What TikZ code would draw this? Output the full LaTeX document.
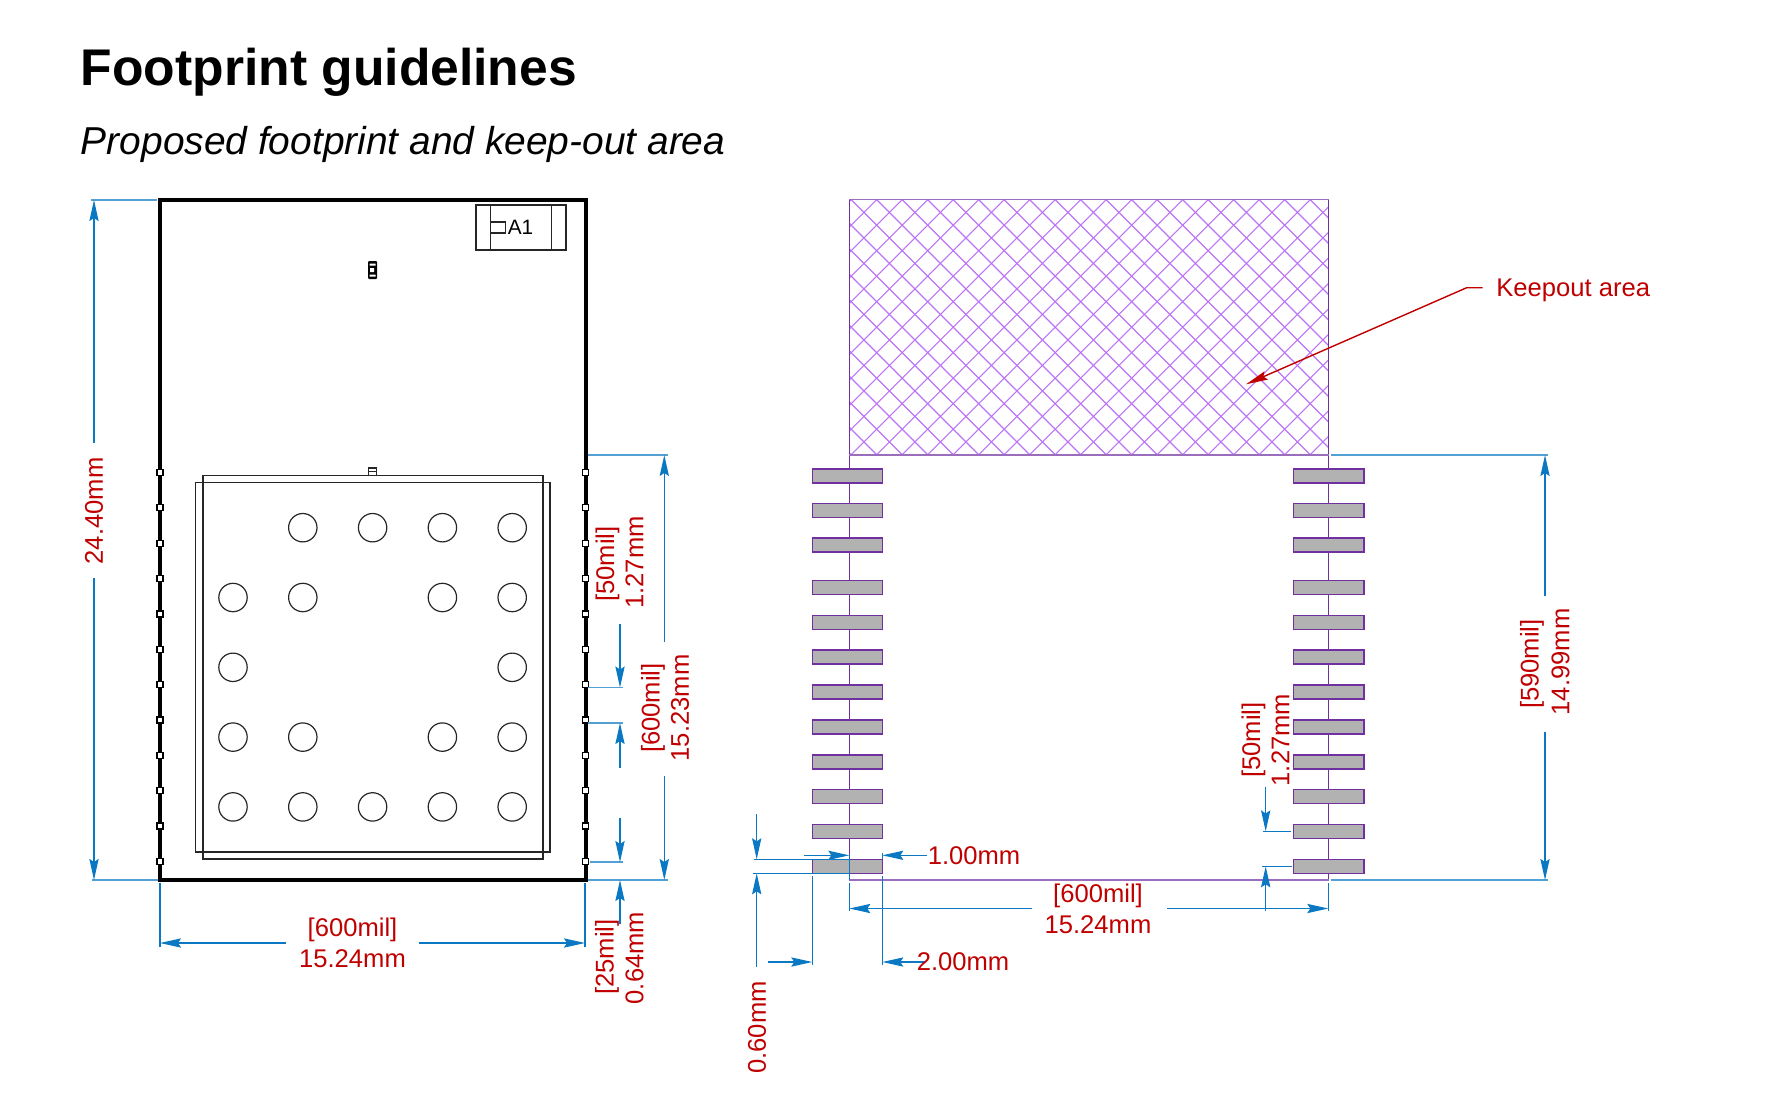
\documentclass[tikz,border=0pt]{standalone}
\usepackage{fontspec}
\setmainfont{Liberation Sans}
\usetikzlibrary{arrows.meta}
\definecolor{dimblue}{HTML}{0A78C2}
\definecolor{dimred}{HTML}{C00000}
\definecolor{padpurple}{HTML}{7030A0}
\definecolor{hatchpurple}{HTML}{BC74F7}
\definecolor{padgrey}{HTML}{B2B2B2}
\tikzset{
  dimarrow/.style={draw=dimblue,line width=0.7pt,-{Stealth[length=10.5pt,width=4.6pt,inset=1.5pt]}},
  extline/.style={draw=dimblue,line width=0.55pt},
  softext/.style={draw=dimblue!70,line width=0.8pt},
  dimtext/.style={text=dimred,font=\fontsize{12.8pt}{15pt}\selectfont,inner sep=0pt,anchor=center},
  vdimtext/.style={dimtext,rotate=90},
  outline/.style={draw=black!85,line width=0.6pt},
  modedge/.style={draw=black,line width=2pt},
  pinbox/.style={draw=black,fill=white,line width=0.6pt},
  padbox/.style={draw=padpurple,fill=padgrey,line width=0.8pt},
  keepline/.style={draw=padpurple,line width=0.7pt},
  softkeep/.style={draw=padpurple!70,line width=0.9pt},
  hatchline/.style={draw=hatchpurple,line width=0.55pt},
  callout/.style={draw=dimred,line width=0.7pt}
}
\begin{document}
\begin{tikzpicture}[x=0.5pt,y=-0.5pt]
\useasboundingbox (0,0) rectangle (1777,1119);
% titles
\node[anchor=west,inner sep=0pt,font=\fontsize{25.8pt}{30pt}\selectfont\bfseries] (title) at (80.5,72.5) {Footprint guidelines};
\node[anchor=west,inner sep=0pt,font=\fontsize{19.45pt}{24pt}\selectfont\itshape] (subtitle) at (80.5,144) {Proposed footprint and keep-out area};
% module
\draw[modedge] (160,200) rectangle (585.5,880);
\foreach \k in {0,...,11}{
  \pgfmathsetmacro{\py}{472.5+35.35*\k}
  \draw[pinbox] (157,\py-3) rectangle (163,\py+3);
  \draw[pinbox] (582.5,\py-3) rectangle (588.5,\py+3);
}
% A1 marker
\draw[outline] (476,205) rectangle (566,250);
\draw[outline] (490.4,205) -- (490.4,250) (551.8,205) -- (551.8,250);
\draw[outline] (490.4,222) rectangle (505.7,233);
\node[inner sep=0pt,anchor=center,font=\fontsize{10.4pt}{12pt}\selectfont] (aone) at (520.5,227.5) {A1};
% small marks
\fill[black,rounded corners=0.5pt] (368,261) rectangle (377,279);
\fill[white] (369.5,263.5) rectangle (375.5,265.5) (369.5,274.5) rectangle (375.5,276.5) (370,268) rectangle (374,272);
\draw[outline] (368.2,468) rectangle (376.8,475.5);
\draw[outline] (368.2,471.5) -- (376.8,471.5);
% shield
\draw[outline] (203,475.7) rectangle (543,859);
\draw[outline] (195.7,482.7) rectangle (550,852);
% balls
\foreach \cx/\cy in {2/1,3/1,4/1,5/1,1/2,2/2,4/2,5/2,1/3,5/3,1/4,2/4,4/4,5/4,1/5,2/5,3/5,4/5,5/5}{
  \draw[outline] ({233+69.8*(\cx-1)},{527.7+69.8*(\cy-1)}) circle[radius=14.2];
}
% 24.40mm
\draw[softext] (91,200) -- (157,200);
\draw[softext] (92,880) -- (158,880);
\draw[dimarrow] (94,443) -- (94,200);
\draw[dimarrow] (94,578) -- (94,880);
\node[vdimtext] (dimA) at (94,511) {24.40mm};
% 15.24 left
\draw[extline] (160,883) -- (160,947);
\draw[extline] (585,883) -- (585,947);
\draw[dimarrow] (286,943) -- (160,943);
\draw[dimarrow] (419,943) -- (585,943);
\node[dimtext] (dimB) at (352.5,930) {[600mil]};
\node[dimtext] (dimBb) at (352.5,958.6) {15.24mm};
% 15.23
\draw[softext] (588,455) -- (668,455);
\draw[softext] (588,880) -- (668,880);
\draw[dimarrow] (664.3,642) -- (664.3,455);
\draw[dimarrow] (664.3,776) -- (664.3,880);
\node[vdimtext] (dimC) at (653,708) {[600mil]};
\node[vdimtext] (dimCb) at (680,708) {15.23mm};
% 1.27 on module
\draw[softext] (588,687.5) -- (623,687.5);
\draw[softext] (588,723) -- (623,723);
\draw[dimarrow] (620,624) -- (620,687.5);
\draw[dimarrow] (620,768) -- (620,723);
\node[vdimtext] (dimD) at (607.5,564) {[50mil]};
\node[vdimtext] (dimDb) at (634.5,562.5) {1.27mm};
% 0.64
\draw[softext] (590,862) -- (623,862);
\draw[dimarrow] (620,818) -- (620,862);
\draw[dimarrow] (620,924) -- (620,880);
\node[vdimtext] (dimE) at (607,957) {[25mil]};
\node[vdimtext] (dimEb) at (634.5,958) {0.64mm};
% keepout
\begin{scope}
\clip (849.3,199.5) rectangle (1328.7,455);
\foreach \k in {-2,...,29}{
  \pgfmathsetmacro{\c}{1076.4+25.5*\k}
  \draw[hatchline] (\c-100,100) -- (\c-600,600);
}
\foreach \k in {-12,...,18}{
  \pgfmathsetmacro{\d}{677+25.5*\k}
  \draw[hatchline] (\d+100,100) -- (\d+600,600);
}
\end{scope}
\draw[keepline] (849.3,199.5) -- (849.3,880) (1328.7,199.5) -- (1328.7,880);
\draw[softkeep] (849.3,199.5) -- (1328.7,199.5) (849.3,455) -- (1328.7,455) (849.3,880) -- (1328.7,880);
% pads
\foreach \y in {475.7,510.5,545.2,587.5,622.3,657.2,692,726.9,761.7,796.6,831.4,866.3}{
  \draw[padbox] (812.3,\y-7) rectangle (882.3,\y+7);
  \draw[padbox] (1293.3,\y-7) rectangle (1363.7,\y+7);
}
% callout
\draw[callout,-{Stealth[length=11pt,width=4.4pt,inset=1.5pt]}] (1482.7,287.7) -- (1466.7,287.7) -- (1246,384.3);
\node[dimtext,anchor=west] (keep) at (1496,290) {Keepout area};
% 14.99
\draw[softext] (1331,455) -- (1548,455);
\draw[softext] (1331,880) -- (1548,880);
\draw[dimarrow] (1545,596) -- (1545,455);
\draw[dimarrow] (1545,732) -- (1545,880);
\node[vdimtext] (dimF) at (1532,664) {[590mil]};
\node[vdimtext] (dimFb) at (1560.5,662) {14.99mm};
% 15.24 right
\draw[extline] (849.3,882.5) -- (849.3,911);
\draw[extline] (1328.3,883) -- (1328.3,911);
\draw[dimarrow] (1032,908.5) -- (849.3,908.5);
\draw[dimarrow] (1167,908.5) -- (1328.3,908.5);
\node[dimtext] (dimG) at (1098,896) {[600mil]};
\node[dimtext] (dimGb) at (1098,924.6) {15.24mm};
% 1.27 right
\draw[extline] (1263,831.4) -- (1291,831.4);
\draw[extline] (1262,866.3) -- (1291.5,866.3);
\draw[dimarrow] (1265.7,786.7) -- (1265.7,831.4);
\draw[dimarrow] (1265.7,911) -- (1265.7,866.3);
\node[vdimtext] (dimH) at (1253.5,740) {[50mil]};
\node[vdimtext] (dimHb) at (1280.5,740) {1.27mm};
% 1.00
\draw[extline] (849.3,855) -- (849.3,880);
\draw[extline] (882.3,853) -- (882.3,859);
\draw[dimarrow] (804,855.3) -- (849.3,855.3);
\draw[dimarrow] (927,855.3) -- (882.3,855.3);
\node[dimtext] (dimI) at (974,856) {1.00mm};
% 2.00
\draw[extline] (812.3,876) -- (812.3,964.5);
\draw[extline] (882.3,876) -- (882.3,964.5);
\draw[dimarrow] (767.7,962) -- (812.3,962);
\draw[dimarrow] (925,962) -- (882.3,962);
\node[dimtext] (dimJ) at (963,962) {2.00mm};
% 0.60
\draw[extline] (754,859.3) -- (849.3,859.3);
\draw[extline] (753,873.3) -- (849.3,873.3);
\draw[dimarrow] (756.7,814.3) -- (756.7,859.3);
\draw[dimarrow] (756.7,966.7) -- (756.7,873.3);
\node[vdimtext] (dimK) at (757,1027.5) {0.60mm};
\end{tikzpicture}
\end{document}
